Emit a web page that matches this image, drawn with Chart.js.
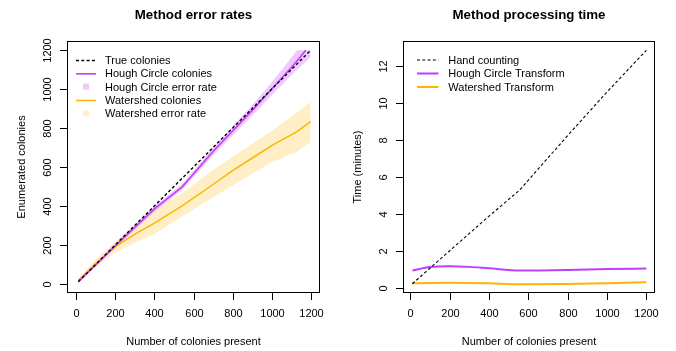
<!DOCTYPE html>
<html>
<head>
<meta charset="utf-8">
<script src="https://cdn.jsdelivr.net/npm/chart.js@4.4.1/dist/chart.umd.min.js"></script>
<style>
  html, body { margin: 0; padding: 0; background: #fff; }
  #wrap { position: relative; width: 676px; height: 351px; }
  canvas { position: absolute; top: 0; }
  #errorChart { left: 0; }
  #timeChart { left: 338px; }
</style>
</head>
<body>
<div id="wrap">
  <canvas id="errorChart" width="338" height="351"></canvas>
  <canvas id="timeChart" width="338" height="351"></canvas>
</div>
<script>
// tick labels
const xTicks = [0, 200, 400, 600, 800, 1000, 1200];
const errTicks = [0, 200, 400, 600, 800, 1000, 1200];
const timeTicks = [0, 2, 4, 6, 8, 10, 12];

// Method error rates
const trueX = [10, 1200];
const trueY = [10, 1200];
const houghX = [10, 100, 200, 300, 400, 542, 700, 800, 900, 1000, 1100, 1130, 1175];
const houghY = [10, 98, 195, 290, 385, 498, 680, 785, 890, 1000, 1110, 1145, 1200];
const houghBandX = [10, 100, 200, 300, 400, 542, 700, 800, 900, 1000, 1100, 1130, 1200];
const houghUpper = [16, 107, 206, 303, 400, 513, 699, 808, 917, 1034, 1160, 1200, 1200];
const houghLower = [4, 89, 184, 277, 370, 483, 661, 762, 863, 968, 1070, 1100, 1165];
const wsX = [10, 100, 200, 300, 400, 542, 700, 800, 900, 1000, 1130, 1200];
const wsY = [18, 105, 190, 255, 311, 400, 510, 581, 645, 710, 782, 833];
const wsUpper = [25, 125, 218, 300, 379, 465, 585, 653, 720, 785, 880, 935];
const wsLower = [12, 88, 160, 212, 255, 345, 445, 504, 565, 625, 679, 728];

// Method processing time (minutes)
const handX = [10, 200, 400, 555, 800, 1000, 1200];
const handY = [0.25, 2.03, 3.9, 5.3, 8.25, 10.6, 12.85];
const timeX = [10, 100, 200, 300, 400, 555, 800, 1000, 1200];
const houghTime = [0.97, 1.15, 1.2, 1.16, 1.08, 0.96, 0.99, 1.04, 1.07];
const wsTime = [0.27, 0.29, 0.3, 0.29, 0.27, 0.22, 0.24, 0.28, 0.33];

const PURPLE = '#c23cff';
const PURPLE_BAND = 'rgba(194, 60, 255, 0.27)';
const ORANGE = '#ffb400';
const ORANGE_BAND = 'rgba(255, 180, 0, 0.22)';
const FONT = '"Liberation Sans", Arial, sans-serif';

function pts(xs, ys) {
  return xs.map((x, i) => ({ x: x, y: ys[i] }));
}

// R style box, axes, titles and legend
function rFrame(o) {
  return {
    id: 'rFrame',
    afterDraw(chart) {
      const ctx = chart.ctx, a = chart.chartArea;
      const sx = chart.scales.x, sy = chart.scales.y;
      ctx.save();
      ctx.strokeStyle = '#000';
      ctx.fillStyle = '#000';
      ctx.lineWidth = 1;
      ctx.setLineDash([]);
      ctx.strokeRect(a.left + 0.5, a.top + 0.5, a.right - a.left - 1, a.bottom - a.top - 1);

      ctx.font = '11px ' + FONT;
      ctx.textAlign = 'center';
      ctx.textBaseline = 'alphabetic';
      o.xTicks.forEach(t => {
        const px = Math.round(sx.getPixelForValue(t)) + 0.5;
        ctx.beginPath();
        ctx.moveTo(px, a.bottom - 0.5);
        ctx.lineTo(px, a.bottom + 7);
        ctx.stroke();
        ctx.fillText(String(t), px, a.bottom + 24);
      });
      o.yTicks.forEach(t => {
        const py = Math.round(sy.getPixelForValue(t)) + 0.5;
        ctx.beginPath();
        ctx.moveTo(a.left + 0.5, py);
        ctx.lineTo(a.left - 7, py);
        ctx.stroke();
        ctx.save();
        ctx.translate(a.left - 16.5, py);
        ctx.rotate(-Math.PI / 2);
        ctx.fillText(String(t), 0, 0);
        ctx.restore();
      });

      // labels
      const cx = (a.left + a.right) / 2;
      ctx.fillText(o.xLabel, cx, 345);
      ctx.save();
      ctx.translate(a.left - 42, (a.top + a.bottom) / 2);
      ctx.rotate(-Math.PI / 2);
      ctx.fillText(o.yLabel, 0, 0);
      ctx.restore();

      ctx.font = 'bold 13.3px ' + FONT;
      ctx.fillText(o.title, cx, 19);

      // legend
      const L = o.legend;
      ctx.font = '11px ' + FONT;
      ctx.textAlign = 'left';
      L.items.forEach((it, i) => {
        const y = L.y0 + i * L.dy;
        if (it.type === 'box') {
          ctx.fillStyle = it.color;
          ctx.fillRect(L.x0 + L.w / 2 - 3, y - 3, 6, 6);
        } else {
          ctx.strokeStyle = it.color;
          ctx.lineWidth = it.width;
          ctx.setLineDash(it.type === 'dash' ? [3, 2.3] : []);
          ctx.beginPath();
          ctx.moveTo(L.x0, y + 0.5);
          ctx.lineTo(L.x0 + L.w, y + 0.5);
          ctx.stroke();
        }
        ctx.setLineDash([]);
        ctx.fillStyle = '#000';
        ctx.fillText(it.label, L.textX, y + 4);
      });
      ctx.restore();
    }
  };
}

function lineSet(data, color, width, extra) {
  return Object.assign({
    data: data,
    borderColor: color,
    backgroundColor: color,
    borderWidth: width,
    pointRadius: 0,
    fill: false,
    tension: 0
  }, extra || {});
}

function bandSet(data, color, target) {
  return {
    data: data,
    borderWidth: 0,
    borderColor: 'rgba(0,0,0,0)',
    backgroundColor: color,
    pointRadius: 0,
    tension: 0,
    fill: target === undefined ? false : { target: target }
  };
}

document.addEventListener('DOMContentLoaded', function () {

  // 왼쪽: error rates
  new Chart(document.getElementById('errorChart'), {
    type: 'line',
    data: {
      datasets: [
        lineSet(pts(trueX, trueY), '#000', 1.4, { borderDash: [3, 2.3] }),
        lineSet(pts(houghX, houghY), PURPLE, 1.6),
        lineSet(pts(wsX, wsY), ORANGE, 1.5),
        bandSet(pts(houghBandX, houghUpper), PURPLE_BAND, 4),
        bandSet(pts(houghBandX, houghLower), PURPLE_BAND),
        bandSet(pts(wsX, wsUpper), ORANGE_BAND, 6),
        bandSet(pts(wsX, wsLower), ORANGE_BAND)
      ]
    },
    options: {
      responsive: false,
      animation: false,
      devicePixelRatio: 1,
      layout: { padding: { left: 67, right: 18, top: 41, bottom: 58 } },
      plugins: { legend: { display: false }, tooltip: { enabled: false } },
      scales: {
        x: { type: 'linear', min: -48, max: 1248, display: false },
        y: { type: 'linear', min: -48, max: 1248, display: false }
      }
    },
    plugins: [rFrame({
      title: 'Method error rates',
      xLabel: 'Number of colonies present',
      yLabel: 'Enumerated colonies',
      xTicks: xTicks,
      yTicks: errTicks,
      legend: {
        x0: 76, w: 20, textX: 105, y0: 60, dy: 13.33,
        items: [
          { type: 'dash', color: '#000', width: 1.4, label: 'True colonies' },
          { type: 'line', color: PURPLE, width: 1.6, label: 'Hough Circle colonies' },
          { type: 'box', color: PURPLE_BAND, label: 'Hough Circle error rate' },
          { type: 'line', color: ORANGE, width: 1.5, label: 'Watershed colonies' },
          { type: 'box', color: ORANGE_BAND, label: 'Watershed error rate' }
        ]
      }
    })]
  });

  // 오른쪽: processing time
  new Chart(document.getElementById('timeChart'), {
    type: 'line',
    data: {
      datasets: [
        lineSet(pts(handX, handY), '#000', 1.1, { borderDash: [3, 2.3] }),
        lineSet(pts(timeX, houghTime), PURPLE, 2, { cubicInterpolationMode: 'monotone' }),
        lineSet(pts(timeX, wsTime), ORANGE, 2, { cubicInterpolationMode: 'monotone' })
      ]
    },
    options: {
      responsive: false,
      animation: false,
      devicePixelRatio: 1,
      layout: { padding: { left: 65, right: 21, top: 41, bottom: 58 } },
      plugins: { legend: { display: false }, tooltip: { enabled: false } },
      scales: {
        x: { type: 'linear', min: -37.6, max: 1244, display: false },
        y: { type: 'linear', min: -0.25, max: 13.35, display: false }
      }
    },
    plugins: [rFrame({
      title: 'Method processing time',
      xLabel: 'Number of colonies present',
      yLabel: 'Time (minutes)',
      xTicks: xTicks,
      yTicks: timeTicks,
      legend: {
        x0: 79, w: 21.5, textX: 110.3, y0: 59.5, dy: 13.5,
        items: [
          { type: 'dash', color: '#000', width: 1.1, label: 'Hand counting' },
          { type: 'line', color: PURPLE, width: 2, label: 'Hough Circle Transform' },
          { type: 'line', color: ORANGE, width: 2, label: 'Watershed Transform' }
        ]
      }
    })]
  });
});
</script>
</body>
</html>
